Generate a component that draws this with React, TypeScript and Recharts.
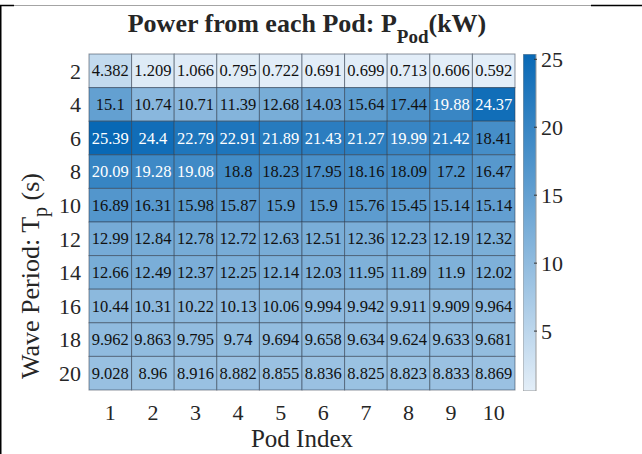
import React from 'react';
import {
  ScatterChart, Scatter, XAxis, YAxis, BarChart, Bar,
} from 'recharts';

// Pod power (kW) for each wave period, one array per period row
const pods = [1, 2, 3, 4, 5, 6, 7, 8, 9, 10];
const periods = [2, 4, 6, 8, 10, 12, 14, 16, 18, 20];

const powerT2 = [4.382, 1.209, 1.066, 0.795, 0.722, 0.691, 0.699, 0.713, 0.606, 0.592];
const powerT4 = [15.1, 10.74, 10.71, 11.39, 12.68, 14.03, 15.64, 17.44, 19.88, 24.37];
const powerT6 = [25.39, 24.4, 22.79, 22.91, 21.89, 21.43, 21.27, 19.99, 21.42, 18.41];
const powerT8 = [20.09, 19.28, 19.08, 18.8, 18.23, 17.95, 18.16, 18.09, 17.2, 16.47];
const powerT10 = [16.89, 16.31, 15.98, 15.87, 15.9, 15.9, 15.76, 15.45, 15.14, 15.14];
const powerT12 = [12.99, 12.84, 12.78, 12.72, 12.63, 12.51, 12.36, 12.23, 12.19, 12.32];
const powerT14 = [12.66, 12.49, 12.37, 12.25, 12.14, 12.03, 11.95, 11.89, 11.9, 12.02];
const powerT16 = [10.44, 10.31, 10.22, 10.13, 10.06, 9.994, 9.942, 9.911, 9.909, 9.964];
const powerT18 = [9.962, 9.863, 9.795, 9.74, 9.694, 9.658, 9.634, 9.624, 9.633, 9.681];
const powerT20 = [9.028, 8.96, 8.916, 8.882, 8.855, 8.836, 8.825, 8.823, 8.833, 8.869];

const powerRows = [powerT2, powerT4, powerT6, powerT8, powerT10, powerT12, powerT14, powerT16, powerT18, powerT20];
const colorbarTicks = [5, 10, 15, 20, 25];

const cells = powerRows.flatMap((row, r) =>
  row.map((value, c) => ({ pod: pods[c], period: periods[r], value }))
);
const allValues = cells.map((d) => d.value);
const vMin = Math.min(...allValues);
const vMax = Math.max(...allValues);

const LIGHT = [227, 238, 248];
const DARK = [8, 104, 181];
const toHex = (rgb: number[]) =>
  '#' + rgb.map((v) => Math.round(v).toString(16).padStart(2, '0')).join('');
const colorFor = (v: number) => {
  const t = (v - vMin) / (vMax - vMin);
  return toHex(LIGHT.map((l, i) => l + (DARK[i] - l) * t));
};

const FONT = '"Liberation Serif", "Times New Roman", serif';
const INK = '#262626';

// plot box of the heatmap
const W = 642;
const H = 454;
const M = { top: 54, right: 127, bottom: 34, left: 0 };
const Y_AXIS_W = 89;
const X_AXIS_H = 30;
const plotW = W - M.left - M.right - Y_AXIS_W;
const plotH = H - M.top - M.bottom - X_AXIS_H;
const cellW = plotW / pods.length;
const cellH = plotH / periods.length;

const HeatCell = (props: any) => {
  const { cx, cy, payload } = props;
  const v = payload.value as number;
  return (
    <g>
      <rect x={cx - cellW / 2} y={cy - cellH / 2} width={cellW} height={cellH}
        fill={colorFor(v)} stroke="#2f3d4c" strokeOpacity={0.55} strokeWidth={1} />
      <text x={cx} y={cy} textAnchor="middle" dominantBaseline="central"
        fontFamily={FONT} fontSize={16.5} fill={v > 19 ? '#ffffff' : '#111111'}>
        {String(v)}
      </text>
    </g>
  );
};

const ColorbarTick = (props: any) => {
  const { x, y, payload } = props;
  return (
    <g>
      <line x1={x - 10} x2={x - 7} y1={y} y2={y} stroke="#333" strokeWidth={1} />
      <text x={x - 3} y={y} dy="0.35em" fontFamily={FONT} fontSize={22} fill={INK}>
        {payload.value}
      </text>
    </g>
  );
};

export default function App() {
  return (
    <div style={{ position: 'absolute', left: 0, top: 0, width: W, height: H, background: '#fff' }}>
      <ScatterChart width={W} height={H} margin={M} style={{ position: 'absolute', left: 0, top: 0 }}>
        <XAxis type="number" dataKey="pod" domain={[0.5, 10.5]} ticks={pods} interval={0}
          axisLine={false} tickLine={false} tickMargin={8} height={X_AXIS_H}
          tick={{ fontFamily: FONT, fontSize: 22, fill: INK }} />
        <YAxis type="number" dataKey="period" domain={[1, 21]} ticks={periods} interval={0} reversed
          axisLine={false} tickLine={false} width={Y_AXIS_W}
          tick={{ fontFamily: FONT, fontSize: 22, fill: INK }} />
        <Scatter data={cells} shape={HeatCell} isAnimationActive={false} />
      </ScatterChart>

      {/* colorbar */}
      <BarChart width={110} height={H} data={[{ name: 'cb', range: [vMin, vMax] }]}
        margin={{ top: 54, right: 0, bottom: 63, left: 0 }}
        barCategoryGap={0}
        style={{ position: 'absolute', left: 523, top: 0 }}>
        <defs>
          <linearGradient id="cbGrad" x1="0" y1="0" x2="0" y2="1">
            <stop offset="0%" stopColor={toHex(DARK)} />
            <stop offset="100%" stopColor={toHex(LIGHT)} />
          </linearGradient>
        </defs>
        <XAxis dataKey="name" hide />
        <YAxis orientation="right" type="number" domain={[vMin, vMax]} ticks={colorbarTicks}
          allowDataOverflow axisLine={false} tickLine={false} width={97} tick={<ColorbarTick />} />
        <Bar dataKey="range" fill="url(#cbGrad)" stroke="#9a9a9a" strokeWidth={1}
          isAnimationActive={false} />
      </BarChart>

      <svg width={W} height={H} style={{ position: 'absolute', left: 0, top: 0, pointerEvents: 'none' }}>
        {/* page frame */}
        <line x1={0} x2={W} y1={5.5} y2={5.5} stroke="#666" strokeWidth={0.6} />
        <line x1={0} x2={14} y1={5.5} y2={5.5} stroke="#000" strokeWidth={1.5} />
        <line x1={591} x2={W} y1={5.5} y2={5.5} stroke="#000" strokeWidth={1.5} />
        <line x1={0.75} x2={0.75} y1={5} y2={H} stroke="#000" strokeWidth={1.5} />

        <text x={307} y={32} textAnchor="middle" fontFamily={FONT} fontSize={26}
          fontWeight="bold" fill={INK}>
          Power from each Pod: P
          <tspan dy={11} fontSize={19}>Pod</tspan>
          <tspan dy={-11}>(kW)</tspan>
        </text>

        <text x={302} y={447} textAnchor="middle" fontFamily={FONT} fontSize={25} fill={INK}>
          Pod Index
        </text>

        <text transform="translate(39, 276) rotate(-90)" textAnchor="middle" fontFamily={FONT}
          fontSize={26} fill={INK}>
          Wave Period: T
          <tspan dy={8} fontSize={20}>p</tspan>
          <tspan dy={-8}> (s)</tspan>
        </text>
      </svg>
    </div>
  );
}
